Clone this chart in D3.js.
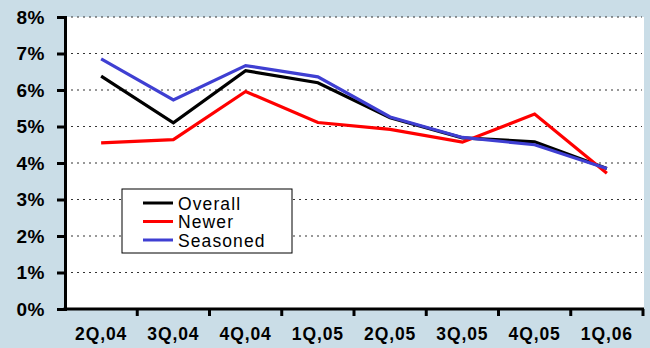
<!DOCTYPE html>
<html>
<head>
<meta charset="utf-8">
<script src="https://cdn.jsdelivr.net/npm/d3@7"></script>
<style>
  html, body { margin: 0; padding: 0; background: #cadde7; }
  svg { display: block; }
  text { font-family: "Liberation Sans", Arial, Helvetica, sans-serif; }
</style>
</head>
<body>
<svg id="chart" width="650" height="348"></svg>
<script>
// Quarterly rates (%) for each loan group
const quarters = ["2Q,04", "3Q,04", "4Q,04", "1Q,05", "2Q,05", "3Q,05", "4Q,05", "1Q,06"];
const overall  = [6.38, 5.10, 6.53, 6.20, 5.24, 4.69, 4.58, 3.85];
const newer    = [4.55, 4.64, 5.96, 5.11, 4.92, 4.57, 5.34, 3.72];
const seasoned = [6.85, 5.73, 6.67, 6.36, 5.26, 4.70, 4.50, 3.85];
const yTicks   = [0, 1, 2, 3, 4, 5, 6, 7, 8];

const seriesList = [
  { name: "Overall",  values: overall,  color: "#000000" },
  { name: "Newer",    values: newer,    color: "#ff0000" },
  { name: "Seasoned", values: seasoned, color: "#3f3fd2" }
];

const svg = d3.select("#chart");
const plotL = 65, plotR = 644, plotT = 17, plotB = 309;

const x = d3.scaleBand().domain(quarters).range([plotL, plotR - 1]);
const y = d3.scaleLinear().domain([0, 8]).range([plotB, plotT]);

// white plotting area
svg.append("rect")
  .attr("x", plotL).attr("y", plotT)
  .attr("width", plotR - plotL).attr("height", plotB - plotT)
  .attr("fill", "#ffffff");

// dotted horizontal gridlines
svg.append("g")
  .selectAll("line")
  .data(yTicks.filter(d => d > 0))
  .join("line")
  .attr("x1", plotL).attr("x2", plotR - 2)
  .attr("y1", d => y(d)).attr("y2", d => y(d))
  .attr("stroke", "#333")
  .attr("stroke-width", 1.2)
  .attr("stroke-dasharray", "2,4");

// series lines
const line = d3.line()
  .x((d, i) => x(quarters[i]) + x.bandwidth() / 2)
  .y(d => y(d));

svg.append("g")
  .selectAll("path")
  .data(seriesList)
  .join("path")
  .attr("d", s => line(s.values))
  .attr("fill", "none")
  .attr("stroke", s => s.color)
  .attr("stroke-width", 3.2)
  .attr("stroke-linejoin", "miter");

// y axis
const yAxis = svg.append("g")
  .attr("transform", `translate(${plotL},0)`)
  .call(d3.axisLeft(y).tickValues(yTicks).tickFormat(d => d + "%").tickSize(8).tickPadding(12));
yAxis.select(".domain").attr("stroke", "#000").attr("stroke-width", 3);
yAxis.selectAll(".tick line").attr("stroke", "#000").attr("stroke-width", 3);
yAxis.selectAll(".tick text")
  .attr("fill", "#000")
  .style("font-size", "19px")
  .style("font-weight", "bold")
  .style("letter-spacing", "0.5px");

// x axis with ticks at category boundaries
const xAxis = svg.append("g")
  .attr("transform", `translate(0,${plotB})`)
  .call(d3.axisBottom(x).tickSize(0).tickPadding(19));
xAxis.select(".domain").remove();
xAxis.append("line")
  .attr("x1", plotL - 1.5).attr("x2", plotR)
  .attr("stroke", "#000").attr("stroke-width", 3);
xAxis.selectAll(".tick text")
  .attr("fill", "#000")
  .style("font-size", "17.5px")
  .style("font-weight", "bold")
  .style("letter-spacing", "0.9px");
const edges = quarters.map(q => x(q)).concat([x(quarters[quarters.length - 1]) + x.bandwidth()]);
xAxis.selectAll(".edge")
  .data(edges.slice(1))
  .join("line")
  .attr("class", "edge")
  .attr("x1", d => d).attr("x2", d => d)
  .attr("y1", 0).attr("y2", 7)
  .attr("stroke", "#000").attr("stroke-width", 3);

// legend
const legend = svg.append("g").attr("transform", "translate(122,189)");
legend.append("rect")
  .attr("width", 170).attr("height", 64)
  .attr("fill", "#ffffff").attr("stroke", "#000").attr("stroke-width", 1);
const rows = legend.selectAll(".row")
  .data(seriesList)
  .join("g")
  .attr("class", "row")
  .attr("transform", (d, i) => `translate(0,${14 + i * 18.5})`);
rows.append("line")
  .attr("x1", 21).attr("x2", 51)
  .attr("stroke", d => d.color).attr("stroke-width", 3);
rows.append("text")
  .attr("x", 56).attr("y", 6.5)
  .style("font-size", "17.5px")
  .style("letter-spacing", "1.1px")
  .attr("fill", "#000")
  .text(d => d.name);
</script>
</body>
</html>
